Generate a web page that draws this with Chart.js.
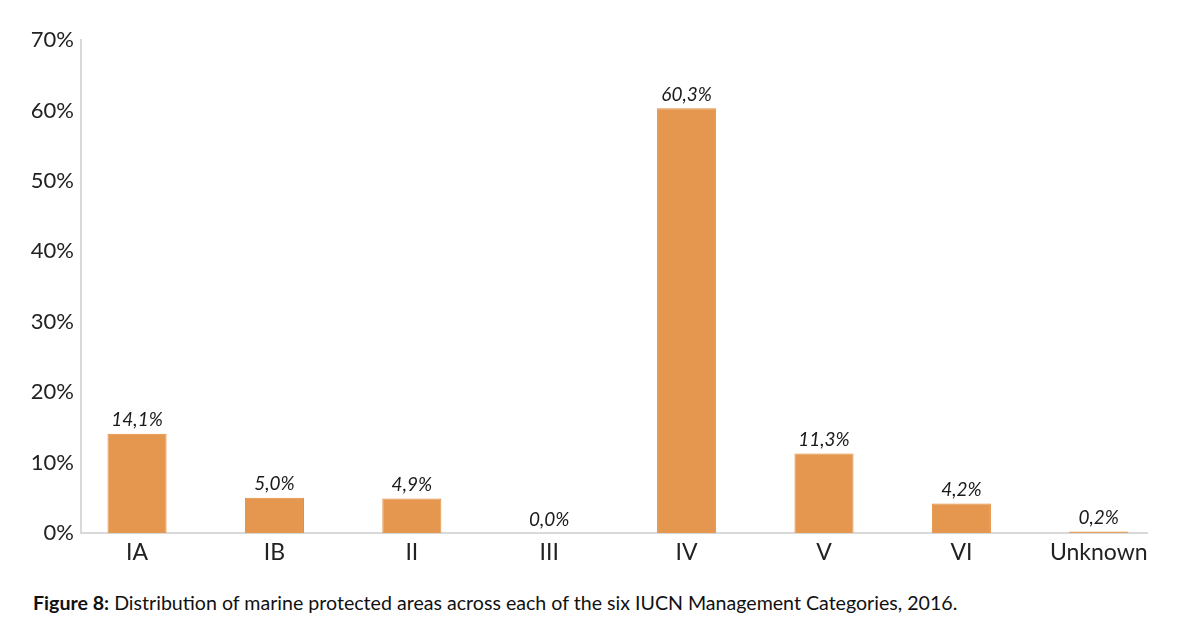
<!DOCTYPE html>
<html>
<head>
<meta charset="utf-8">
<script src="https://cdn.jsdelivr.net/npm/chart.js@4.4.0/dist/chart.umd.min.js"></script>
<style>
  html, body { margin: 0; padding: 0; background: #fff; }
  #wrap { position: relative; width: 1200px; height: 580px; }
  #caption {
    position: absolute; left: 33px; top: 591px;
    font-family: Lato, "Open Sans", sans-serif; font-size: 19.6px; color: #111;
  }
</style>
</head>
<body>
<div id="wrap"><canvas id="myChart"></canvas></div>
<div id="caption"><b>Figure 8:</b> Distribution of marine protected areas across each of the six IUCN Management Categories, 2016.</div>
<script>
var categories = ["IA", "IB", "II", "III", "IV", "V", "VI", "Unknown"];
var shares = [14.1, 5.0, 4.9, 0.0, 60.3, 11.3, 4.2, 0.2];
var yTicks = [0, 10, 20, 30, 40, 50, 60, 70];

var FONT = 'Lato, "Open Sans", sans-serif';

function pct(v) {
    return v.toFixed(1).replace('.', ',') + '%';
}

// category index -> bar, so the x axis can be a plain linear scale
var points = categories.map(function (c, i) {
    return { x: i, y: shares[i] };
});

// italic value above each bar
var valueLabels = {
    id: 'valueLabels',
    afterDatasetsDraw: function (chart) {
        var c = chart.ctx;
        var meta = chart.getDatasetMeta(0);
        c.save();
        c.font = 'italic 19px ' + FONT;
        c.fillStyle = '#1a1a1a';
        c.textAlign = 'center';
        c.textBaseline = 'bottom';
        meta.data.forEach(function (bar, i) {
            c.fillText(pct(shares[i]), bar.x, bar.y - 4);
        });
        c.restore();
    }
};

var ctx = document.getElementById('myChart').getContext('2d');

var myChart = new Chart(ctx, {
    type: 'bar',
    data: {
        datasets: [{
            data: points,
            backgroundColor: '#E5974F',
            borderColor: '#E28C3C',
            borderWidth: 1,
            categoryPercentage: 1,
            barPercentage: 0.43
        }]
    },
    options: {
        responsive: true,
        maintainAspectRatio: false,
        animation: false,
        layout: { padding: { left: 20, right: 53, top: 40, bottom: 5 } },
        plugins: {
            legend: { display: false },
            tooltip: { enabled: false }
        },
        scales: {
            y: {
                min: 0,
                max: 70,
                afterBuildTicks: function (axis) {
                    axis.ticks = yTicks.map(function (v) { return { value: v }; });
                },
                afterFit: function (axis) { axis.width = 61; },
                grid: { display: false, drawTicks: false },
                border: { display: true, color: '#D9D9D9', width: 2 },
                ticks: {
                    color: '#222',
                    padding: 7,
                    font: { family: FONT, size: 22 },
                    callback: function (v) { return v + '%'; }
                }
            },
            x: {
                type: 'linear',
                offset: false,
                min: -0.408,
                max: 7.351,
                afterBuildTicks: function (axis) {
                    axis.ticks = categories.map(function (c, i) { return { value: i }; });
                },
                afterFit: function (axis) { axis.height = 42; },
                grid: { display: false, drawTicks: false },
                border: { display: true, color: '#D9D9D9', width: 2 },
                ticks: {
                    color: '#222',
                    padding: 6,
                    autoSkip: false,
                    maxRotation: 0,
                    font: { family: FONT, size: 23 },
                    callback: function (v) { return categories[v]; }
                }
            }
        }
    },
    plugins: [valueLabels]
});
</script>
</body>
</html>
